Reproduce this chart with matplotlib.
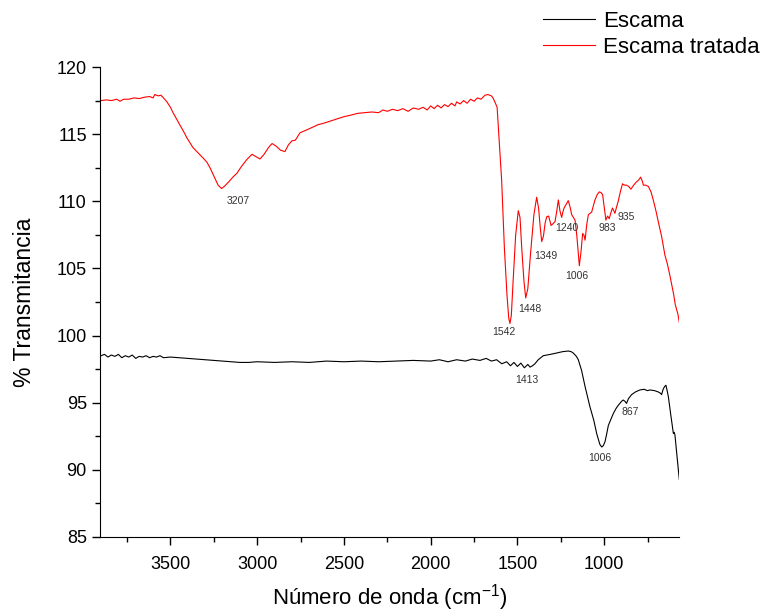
import matplotlib
matplotlib.use('Agg')
import matplotlib.pyplot as plt
from matplotlib.ticker import MultipleLocator

plt.rcParams['font.family'] = ['Liberation Sans', 'DejaVu Sans']
plt.rcParams['mathtext.fontset'] = 'custom'
plt.rcParams['mathtext.rm'] = 'Liberation Sans'
plt.rcParams['mathtext.it'] = 'Liberation Sans'

# Escama tratada (red)
x_trat = [3900, 3870, 3840, 3810, 3790, 3770, 3740, 3710, 3680, 3650, 3620, 3600, 3590, 3570,
          3555, 3540, 3520, 3500, 3485, 3450, 3420, 3404, 3370, 3340, 3310, 3289, 3272, 3250,
          3225, 3205, 3190, 3160, 3140, 3116, 3090, 3060, 3030, 3010, 2984, 2960, 2935, 2914,
          2890, 2865, 2840, 2820, 2800, 2780, 2753, 2700, 2650, 2620, 2560, 2500, 2465, 2420,
          2380, 2340, 2300, 2275, 2250, 2220, 2190, 2160, 2130, 2100, 2070, 2044, 2020, 2000,
          1980, 1960, 1940, 1920, 1900, 1880, 1860, 1850, 1830, 1810, 1790, 1770, 1750, 1730,
          1710, 1687, 1670, 1650, 1641, 1630, 1617, 1605, 1591, 1575, 1560, 1550, 1543, 1535,
          1525, 1510, 1495, 1485, 1475, 1462, 1452, 1440, 1425, 1405, 1389, 1378, 1368, 1360,
          1350, 1340, 1331, 1320, 1306, 1293, 1283, 1274, 1264, 1255, 1245, 1238, 1231, 1218,
          1207, 1197, 1187, 1168, 1158, 1143, 1133, 1124, 1117, 1110, 1100, 1091, 1072, 1053,
          1040, 1028, 1018, 1009, 1000, 990, 980, 971, 960, 952, 945, 938, 928, 919, 905, 894,
          882, 871, 858, 846, 830, 817, 800, 790, 780, 774, 760, 745, 730, 717, 700, 685, 669,
          650, 635, 620, 600, 590, 575, 567]
y_trat = [117.5, 117.55, 117.5, 117.6, 117.45, 117.6, 117.6, 117.7, 117.65, 117.75, 117.8, 117.7,
          117.95, 117.85, 117.9, 117.7, 117.4, 117.0, 116.6, 115.8, 115.1, 114.7, 114.0, 113.6,
          113.2, 112.9, 112.5, 111.9, 111.2, 110.95, 111.1, 111.5, 111.8, 112.1, 112.6, 113.1,
          113.5, 113.35, 113.15, 113.5, 114.0, 114.3, 114.1, 113.8, 113.7, 114.2, 114.5, 114.55,
          115.1, 115.4, 115.7, 115.8, 116.05, 116.3, 116.4, 116.55, 116.6, 116.65, 116.6, 116.8,
          116.7, 116.85, 116.75, 116.9, 116.7, 116.95, 116.85, 117.0, 116.8, 117.1, 116.9, 117.15,
          116.95, 117.2, 117.05, 117.3, 117.1, 117.4, 117.25, 117.5, 117.3, 117.6, 117.45, 117.7,
          117.6, 117.9, 117.95, 117.85, 117.7, 117.4, 117.0, 114.5, 111.6, 106.5, 103.0, 101.3,
          100.9, 101.5, 104.0, 107.5, 109.3, 108.8, 106.5, 104.0, 102.8, 103.5, 106.0, 109.0,
          110.3, 109.5, 108.0, 107.0, 107.4, 108.4, 108.85, 108.9, 108.2, 108.35, 108.5, 109.2,
          110.1, 109.3, 108.8, 109.2, 109.5, 109.8, 110.05, 109.6, 109.0, 108.6, 107.5, 105.2,
          106.3, 107.6, 107.5, 107.1, 108.3, 109.0, 109.2, 110.1, 110.5, 110.7, 110.65, 110.5,
          109.6, 108.6, 108.9, 108.7, 109.2, 109.5, 109.3, 109.1, 109.6, 110.0, 110.8, 111.3,
          111.2, 111.2, 111.1, 110.9, 111.2, 111.4, 111.6, 111.8, 111.5, 111.2, 111.2, 111.1,
          110.7, 110.1, 109.2, 108.3, 107.4, 106.0, 105.3, 104.4, 103.1, 102.3, 101.6, 101.0]

# Escama (black)
x_esc = [3900, 3880, 3860, 3840, 3820, 3800, 3780, 3760, 3740, 3720, 3700, 3680, 3660, 3640,
         3620, 3600, 3580, 3560, 3540, 3500, 3450, 3400, 3350, 3300, 3250, 3200, 3150, 3100,
         3050, 3000, 2900, 2800, 2700, 2600, 2500, 2400, 2300, 2200, 2100, 2000, 1950, 1900,
         1850, 1800, 1760, 1716, 1680, 1650, 1620, 1590, 1562, 1540, 1520, 1500, 1480, 1460,
         1440, 1427, 1413, 1399, 1380, 1351, 1310, 1274, 1240, 1207, 1190, 1178, 1160, 1149,
         1130, 1110, 1095, 1082, 1060, 1043, 1025, 1014, 1005, 995, 985, 976, 960, 947, 930,
         919, 900, 890, 880, 871, 860, 842, 820, 794, 770, 750, 736, 710, 688, 675, 669, 660,
         652, 644, 637, 630, 615, 601, 596, 592, 580, 567]
y_esc = [98.5, 98.6, 98.4, 98.55, 98.45, 98.6, 98.35, 98.5, 98.4, 98.55, 98.3, 98.45, 98.4, 98.5,
         98.35, 98.45, 98.4, 98.5, 98.35, 98.4, 98.35, 98.3, 98.25, 98.2, 98.15, 98.1, 98.05, 98.0,
         98.0, 98.05, 98.0, 98.05, 98.0, 98.1, 98.05, 98.1, 98.05, 98.1, 98.15, 98.1, 98.2, 98.05,
         98.2, 98.1, 98.25, 98.15, 98.3, 98.1, 98.2, 97.9, 98.05, 97.75, 98.0, 97.7, 97.95, 97.6,
         97.85, 97.65, 97.75, 97.9, 98.2, 98.5, 98.6, 98.7, 98.8, 98.85, 98.8, 98.7, 98.45, 98.2,
         97.4, 96.2, 95.4, 94.7, 93.7, 92.7, 91.9, 91.7, 91.8, 92.1, 92.7, 93.3, 93.8, 94.2, 94.6,
         94.8, 95.1, 95.2, 95.1, 94.95, 95.3, 95.6, 95.8, 95.95, 96.0, 95.9, 95.95, 95.9, 95.8,
         95.7, 95.6, 96.0, 96.2, 96.3, 95.9, 95.45, 94.0, 92.7, 92.8, 92.6, 91.0, 89.3]

# peak labels: (text, x, y)
picos_trat = [('3207', 3110, 110.0), ('1542', 1581, 100.3), ('1448', 1427, 102.0),
              ('1349', 1335, 105.95), ('1240', 1216, 108.0), ('1006', 1158, 104.4),
              ('983', 982, 108.0), ('935', 871, 108.8)]
picos_esc = [('1413', 1443, 96.7), ('1006', 1024, 90.9), ('867', 851, 94.3)]

fig = plt.figure(figsize=(7.72, 6.13), dpi=100)
ax = fig.add_axes([0.1295, 0.1240, 0.7504, 0.7667])

ax.plot(x_esc, y_esc, color='black', linewidth=0.8, label='Escama')
ax.plot(x_trat, y_trat, color='red', linewidth=0.8, label='Escama tratada')

for txt, xx, yy in picos_trat + picos_esc:
    ax.text(xx, yy, txt, fontsize=7.5, color='#333333', ha='center', va='center')

ax.set_xlim(3906, 567)
ax.set_ylim(85, 120)
ax.xaxis.set_major_locator(MultipleLocator(500))
ax.xaxis.set_minor_locator(MultipleLocator(250))
ax.yaxis.set_major_locator(MultipleLocator(5))
ax.yaxis.set_minor_locator(MultipleLocator(2.5))
ax.spines['top'].set_visible(False)
ax.spines['right'].set_visible(False)
ax.tick_params(which='major', direction='out', length=6, width=1, labelsize=13)
ax.tick_params(which='minor', direction='out', length=3.5, width=1)
ax.tick_params(axis='x', pad=8)

ax.set_xlabel('Número de onda (cm$^{\\mathregular{-1}}$)', fontsize=16, labelpad=6)
ax.set_ylabel('% Transmitancia', fontsize=16.5, labelpad=15)

fig.legend(loc='upper left', bbox_to_anchor=(0.689, 1.0), frameon=False, fontsize=16,
           handlelength=2.35, handletextpad=0.35, labelspacing=0.22, borderaxespad=0.1)

fig.savefig('out.png', dpi=100)
